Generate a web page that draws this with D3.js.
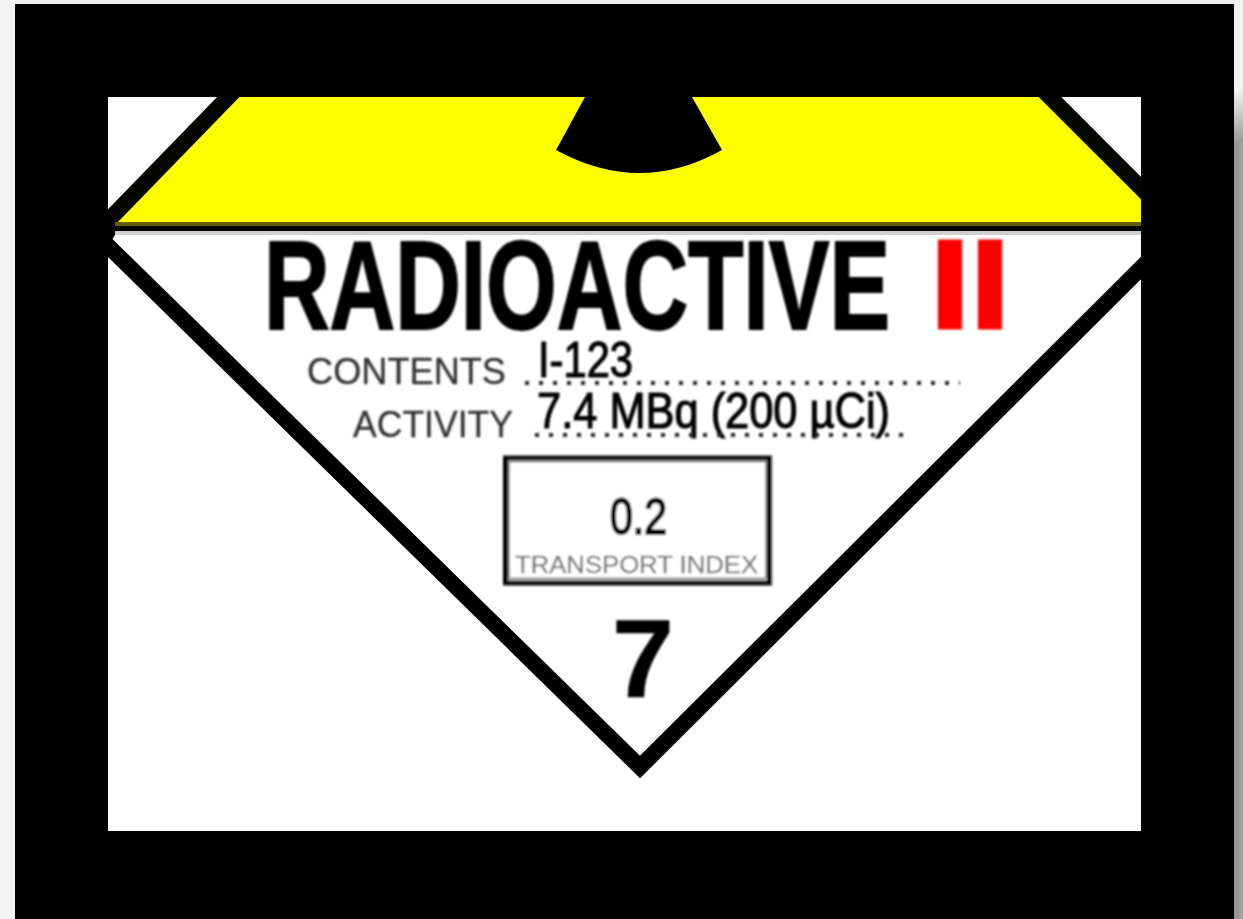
<!DOCTYPE html>
<html>
<head>
<meta charset="utf-8">
<script src="https://cdn.jsdelivr.net/npm/d3@7"></script>
<style>
  html, body { margin: 0; padding: 0; background: #f1f1f1; overflow: hidden; }
</style>
</head>
<body>
<script>
// label contents
var title = ["RADIOACTIVE"];
var category = ["II"];
var fieldNames = ["CONTENTS", "ACTIVITY"];
var fieldValues = ["I-123", "7.4 MBq (200 µCi)"];
var transportIndex = ["0.2"];
var transportCaption = ["TRANSPORT INDEX"];
var hazardClass = ["7"];

var w = 1243;
var h = 919;

var svg = d3.select("body")
            .append("svg")
            .attr("width", w)
            .attr("height", h)
            .style("display", "block");

// the original is an upscaled bitmap, so everything is slightly soft
var defs = svg.append("defs");
defs.append("filter").attr("id", "soft")
    .attr("x", "-5%").attr("y", "-5%").attr("width", "110%").attr("height", "110%")
    .append("feGaussianBlur").attr("stdDeviation", 0.8);

var shadowFade = defs.append("linearGradient").attr("id", "shadowFade")
    .attr("x1", 0).attr("x2", 0).attr("y1", 0).attr("y2", 1);
shadowFade.append("stop").attr("offset", "0%").attr("stop-color", "#f1f1f1");
shadowFade.append("stop").attr("offset", "100%").attr("stop-color", "#9a9a9a");

// drop shadow down the right hand side
svg.append("rect").attr("x", 1234).attr("y", 90).attr("width", 9).attr("height", 52)
   .attr("fill", "url(#shadowFade)");
svg.append("rect").attr("x", 1234).attr("y", 142).attr("width", 5).attr("height", h - 142).attr("fill", "#959595");
svg.append("rect").attr("x", 1239).attr("y", 142).attr("width", 4).attr("height", h - 142).attr("fill", "#a0a0a0");

// black frame and white inner sheet
svg.append("rect").attr("x", 15).attr("y", 4).attr("width", 1219).attr("height", h - 4).attr("fill", "#000");

var sheet = { x: 108, y: 97, w: 1033, h: 734 };
defs.append("clipPath").attr("id", "sheet").append("rect")
    .attr("x", sheet.x).attr("y", sheet.y).attr("width", sheet.w).attr("height", sheet.h);
svg.append("rect").attr("x", sheet.x).attr("y", sheet.y).attr("width", sheet.w).attr("height", sheet.h).attr("fill", "#fff");

var g = svg.append("g").attr("clip-path", "url(#sheet)");
var line = d3.line();

// yellow top half of the diamond
g.append("path")
 .attr("d", line([[112, 226], [236, 97], [1042, 97], [1141, 196], [1141, 226]]) + "Z")
 .attr("fill", "#ffff00");

// diamond border, lower half
g.append("path")
 .attr("d", line([[100, 238], [640, 767], [1150, 259]]))
 .attr("fill", "none").attr("stroke", "#000").attr("stroke-width", 16).attr("stroke-linejoin", "miter");

// diamond border, upper half
g.append("path")
 .attr("d", line([[100, 229], [238, 87]]))
 .attr("fill", "none").attr("stroke", "#050500").attr("stroke-width", 16);
g.append("path")
 .attr("d", line([[1040, 87], [1150, 197]]))
 .attr("fill", "none").attr("stroke", "#050500").attr("stroke-width", 16);

// horizontal rule below the yellow
g.append("rect").attr("x", 115).attr("y", 222).attr("width", 1030).attr("height", 4).attr("fill", "#665f00");
g.append("rect").attr("x", 115).attr("y", 226).attr("width", 1030).attr("height", 5).attr("fill", "#000");
g.append("rect").attr("x", 115).attr("y", 231).attr("width", 1030).attr("height", 4).attr("fill", "#cfcfcf");
g.append("path")
 .attr("d", line([[108, 212], [115, 222], [115, 235], [108, 246]]) + "Z")
 .attr("fill", "#000");

// blade of the trefoil
g.append("path")
 .attr("d", "M585,97 L556,150 Q640,196 722,150 L692,97 Z")
 .attr("fill", "#000");

var narrow = "'Liberation Sans Narrow', 'Liberation Sans', Arial, sans-serif";
var sans = "'Liberation Sans', Arial, sans-serif";

var labels = svg.append("g").attr("filter", "url(#soft)");

function addText(str, x, y, size, width, family, weight, fill, stroke) {
  return labels.append("text")
    .attr("x", x).attr("y", y)
    .attr("textLength", width).attr("lengthAdjust", "spacingAndGlyphs")
    .style("font-family", family)
    .style("font-weight", weight)
    .style("font-size", size + "px")
    .attr("fill", fill)
    .attr("stroke", fill)
    .attr("stroke-width", stroke)
    .text(str);
}

addText(title[0], 264, 329, 127, 626, narrow, "bold", "#000", 2);
addText(category[0], 930, 328, 126, 80, sans, "bold", "#ff0000", 3);

addText(fieldNames[0], 307, 384, 36, 199, sans, "normal", "#333", 0.3);
addText(fieldNames[1], 353, 437, 36, 160, sans, "normal", "#333", 0.3);
addText(fieldValues[0], 538, 377, 50, 95, narrow, "normal", "#000", 1.2);
addText(fieldValues[1], 537, 428, 50, 353, narrow, "normal", "#000", 1.2);

// dotted rules under the values
labels.append("path").attr("d", line([[525, 383], [960, 383]]))
      .attr("stroke", "#222").attr("stroke-width", 4).attr("stroke-dasharray", "4 10");
labels.append("path").attr("d", line([[535, 435], [908, 435]]))
      .attr("stroke", "#222").attr("stroke-width", 4).attr("stroke-dasharray", "4 10");

// transport index box: light halo, black frame, grey inner edge
labels.append("rect").attr("x", 504).attr("y", 456).attr("width", 268).attr("height", 129)
      .attr("fill", "none").attr("stroke", "#ccc").attr("stroke-width", 2);
labels.append("rect").attr("x", 505.5).attr("y", 458).attr("width", 264).attr("height", 125)
      .attr("fill", "#fff").attr("stroke", "#000").attr("stroke-width", 5);
labels.append("rect").attr("x", 509).attr("y", 461.5).attr("width", 257).attr("height", 117)
      .attr("fill", "none").attr("stroke", "#888").attr("stroke-width", 2);

addText(transportIndex[0], 610, 534, 50, 57, narrow, "normal", "#000", 2);
addText(transportCaption[0], 515, 573, 24, 243, sans, "normal", "#777", 0.3);

addText(hazardClass[0], 612, 697, 112, 62, sans, "bold", "#000", 0.5);
</script>
</body>
</html>
